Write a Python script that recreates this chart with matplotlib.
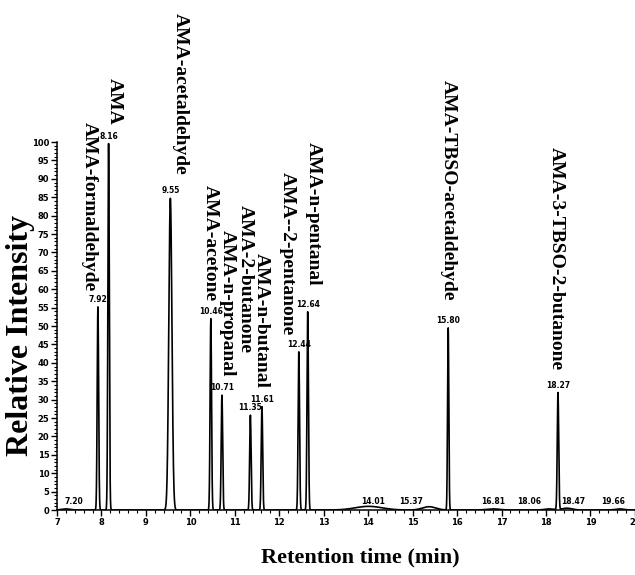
import matplotlib
matplotlib.use("Agg")
import matplotlib.pyplot as plt
import numpy as np
from matplotlib.ticker import MultipleLocator

# main peaks: retention time (min), relative intensity, peak width (sigma, min)
peak_rt = [7.92, 8.16, 9.55, 10.46, 10.71, 11.35, 11.61, 12.44, 12.64, 15.80, 18.27]
peak_height = [55.2, 99.6, 84.7, 52.0, 31.2, 25.8, 28.1, 43.0, 53.9, 49.5, 31.8]
peak_sigma = [0.016, 0.016, 0.035, 0.016, 0.016, 0.016, 0.016, 0.016, 0.016, 0.014, 0.016]

# minor baseline features
minor_rt = [7.20, 14.01, 15.37, 16.81, 18.06, 18.47, 19.66]
minor_height = [0.3, 1.0, 0.9, 0.3, 0.3, 0.5, 0.3]
minor_sigma = [0.10, 0.30, 0.15, 0.15, 0.10, 0.12, 0.10]
minor_label_x = [7.38, 14.10, 14.97, 16.82, 17.62, 18.62, 19.52]

# compound names, with label anchor (x centre, top y) in data units
compounds = ["AMA-formaldehyde", "AMA", "AMA-acetaldehyde", "AMA-acetone",
             "AMA-n-propanal", "AMA-2-butanone", "AMA-n-butanal",
             "AMA--2-pentanone", "AMA-n-pentanal",
             "AMA-TBSO-acetaldehyde", "AMA-3-TBSO-2-butanone"]
comp_x = [7.73, 8.29, 9.77, 10.44, 10.82, 11.23, 11.60, 12.17, 12.77, 15.80, 18.24]
comp_top = [105.5, 117.3, 135.0, 88.3, 76.1, 82.9, 69.8, 91.9, 100.1, 116.8, 98.7]

t = np.linspace(7.0, 20.0, 8000)
signal = np.zeros_like(t)
for rt, h, s in zip(peak_rt + minor_rt, peak_height + minor_height, peak_sigma + minor_sigma):
    signal += h * np.exp(-0.5 * ((t - rt) / s) ** 2)

fig = plt.figure(figsize=(6.35, 5.75), dpi=100)
ax = fig.add_axes([0.0898, 0.113, 0.910, 0.640])
ax.plot(t, signal, color="black", lw=1.2)

ax.set_xlim(7, 20)
ax.set_ylim(0, 100)
ax.xaxis.set_major_locator(MultipleLocator(1))
ax.xaxis.set_minor_locator(MultipleLocator(0.2))
ax.yaxis.set_major_locator(MultipleLocator(5))
ax.yaxis.set_minor_locator(MultipleLocator(1))
ax.tick_params(which="major", direction="out", length=4, width=1, labelsize=6, pad=1.5)
ax.tick_params(which="minor", direction="out", length=2, width=0.8)
for lbl in ax.get_xticklabels() + ax.get_yticklabels():
    lbl.set_fontweight("bold")
for side in ["top", "right"]:
    ax.spines[side].set_visible(False)
ax.spines["left"].set_linewidth(1.1)
ax.spines["bottom"].set_linewidth(1.1)

# retention time labels
for rt, h in zip(peak_rt, peak_height):
    ax.text(rt, h + 0.8, f"{rt:.2f}", ha="center", va="bottom", fontsize=5.5,
            fontweight="bold", clip_on=False)
for rt, lx in zip(minor_rt, minor_label_x):
    ax.text(lx, 1.2, f"{rt:.2f}", ha="center", va="bottom", fontsize=5.5,
            fontweight="bold", clip_on=False)

# compound names
for name, x, y in zip(compounds, comp_x, comp_top):
    ax.text(x, y, name, rotation=270, ha="center", va="top", fontsize=14,
            fontweight="bold", family="Liberation Serif", clip_on=False)

fig.text(0.033, 0.416, "Relative Intensity", rotation=90, family="Liberation Serif",
         fontweight="bold", fontsize=23, ha="center", va="center")
fig.text(0.567, 0.031, "Retention time (min)", family="Liberation Serif",
         fontweight="bold", fontsize=16, ha="center", va="center")

fig.savefig("out.png", dpi=100)
